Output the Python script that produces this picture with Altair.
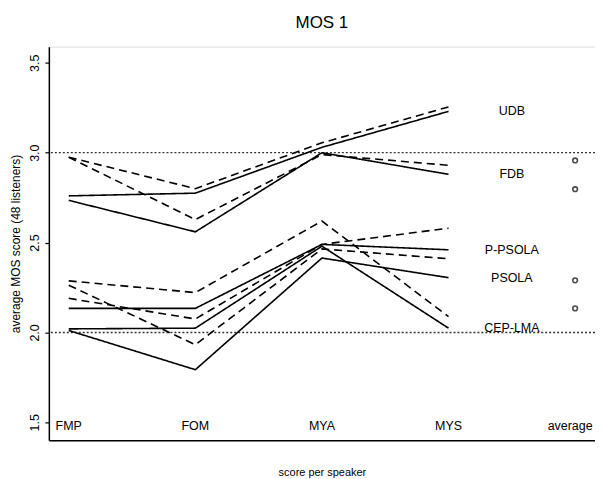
import altair as alt
import pandas as pd

speakers = ["FMP", "FOM", "MYA", "MYS"]
x_labels = ["FMP", "FOM", "MYA", "MYS", "average"]
systems = ["UDB", "FDB", "P-PSOLA", "PSOLA", "CEP-LMA"]

solid_udb = [2.76, 2.775, 3.03, 3.23]
solid_fdb = [2.735, 2.56, 3.00, 2.88]
solid_ppsola = [2.134, 2.134, 2.49, 2.46]
solid_psola = [2.011, 1.793, 2.414, 2.305]
solid_ceplma = [2.02, 2.024, 2.48, 2.024]

dashed_udb = [2.975, 2.80, 3.055, 3.255]
dashed_fdb = [2.975, 2.628, 2.99, 2.93]
dashed_ppsola = [2.19, 2.075, 2.49, 2.58]
dashed_psola = [2.263, 1.932, 2.465, 2.41]
dashed_ceplma = [2.287, 2.222, 2.62, 2.088]

average_points = [2.957, 2.797, 2.29, 2.134]
reference_levels = [2.0, 3.0]
y_ticks = [1.5, 2.0, 2.5, 3.0, 3.5]

solid = [solid_udb, solid_fdb, solid_ppsola, solid_psola, solid_ceplma]
dashed = [dashed_udb, dashed_fdb, dashed_ppsola, dashed_psola, dashed_ceplma]

rows = []
for sys_name, s_vals, d_vals in zip(systems, solid, dashed):
    for i, spk in enumerate(speakers):
        rows.append({"system": sys_name, "style": "solid", "speaker": spk, "x": i, "y": s_vals[i]})
        rows.append({"system": sys_name, "style": "dashed", "speaker": spk, "x": i, "y": d_vals[i]})
lines_df = pd.DataFrame(rows)

avg_df = pd.DataFrame({"x": [len(speakers)] * len(average_points), "y": average_points})
ref_df = pd.DataFrame({"y": reference_levels})
xlab_df = pd.DataFrame({"x": list(range(len(x_labels) - 1)), "label": x_labels[:-1],
                        "y": [1.482] * (len(x_labels) - 1)})
avglab_df = pd.DataFrame({"x": [len(x_labels) - 1], "label": x_labels[-1:], "y": [1.482]})
syslab_df = pd.DataFrame({"label": systems, "x": [3.5] * len(systems), "y": [v[-1] for v in solid]})

xscale = alt.Scale(domain=[-0.157, 4.157], nice=False, zero=False)
yscale = alt.Scale(domain=[1.40, 3.59], nice=False, zero=False)

FONT = "Liberation Sans"

xenc = alt.X("x:Q", scale=xscale,
             axis=alt.Axis(title="score per speaker", labels=False, ticks=False, domain=True,
                           domainColor="black", domainWidth=1.5,
                           grid=False, titlePadding=26, titleFontSize=11,
                           titleFontWeight="normal", titleFont=FONT, titleColor="black"))
yenc = alt.Y("y:Q", scale=yscale,
             axis=alt.Axis(title="average MOS score (48 listeners)", values=y_ticks, format=".1f",
                           labelAngle=270, tickSize=4, labelPadding=3, domain=True,
                           domainColor="black", domainWidth=1.5, grid=False,
                           labelFontSize=12.5, labelFont=FONT, labelColor="black",
                           tickColor="black", tickWidth=1.2, titleFontSize=12,
                           titleFontWeight="normal", titleFont=FONT, titleColor="black",
                           titlePadding=6))

refs = alt.Chart(ref_df).mark_rule(color="#333333", strokeWidth=1.3, strokeDash=[2, 2]).encode(
    y=alt.Y("y:Q", scale=yscale))

lines = alt.Chart(lines_df).mark_line(color="black", strokeWidth=1.6).encode(
    x=xenc,
    y=yenc,
    detail=alt.Detail("system:N"),
    strokeDash=alt.StrokeDash("style:N",
                              scale=alt.Scale(domain=["solid", "dashed"], range=[[1, 0], [8, 5]]),
                              legend=None),
    order=alt.Order("x:Q"),
)

avg = alt.Chart(avg_df).mark_point(shape="circle", size=22, filled=False, color="black",
                                   strokeWidth=1.6).encode(
    x=alt.X("x:Q", scale=xscale), y=alt.Y("y:Q", scale=yscale))

xlabs = alt.Chart(xlab_df).mark_text(fontSize=12.5, font=FONT, color="black",
                                     baseline="middle", align="center").encode(
    x=alt.X("x:Q", scale=xscale), y=alt.Y("y:Q", scale=yscale), text="label:N")

avglab = alt.Chart(avglab_df).mark_text(fontSize=12.5, font=FONT, color="black",
                                        baseline="middle", align="center", dx=-5).encode(
    x=alt.X("x:Q", scale=xscale), y=alt.Y("y:Q", scale=yscale), text="label:N")

syslabs = alt.Chart(syslab_df).mark_text(fontSize=12.5, font=FONT, color="black",
                                         baseline="middle", align="center").encode(
    x=alt.X("x:Q", scale=xscale), y=alt.Y("y:Q", scale=yscale), text="label:N")

chart = alt.layer(refs, lines, avg, xlabs, avglab, syslabs).properties(
    width=548,
    height=395,
    title=alt.TitleParams("MOS 1", fontSize=17, font=FONT, fontWeight="normal",
                          color="black", offset=15, anchor="middle"),
    autosize=alt.AutoSizeParams(type="none"),
    padding={"left": 41, "top": 38, "right": 0, "bottom": 38},
).configure_view(stroke="black", strokeWidth=1.5).configure(background="white")

chart.save("out.html", embed_options={"renderer": "svg", "actions": False})
